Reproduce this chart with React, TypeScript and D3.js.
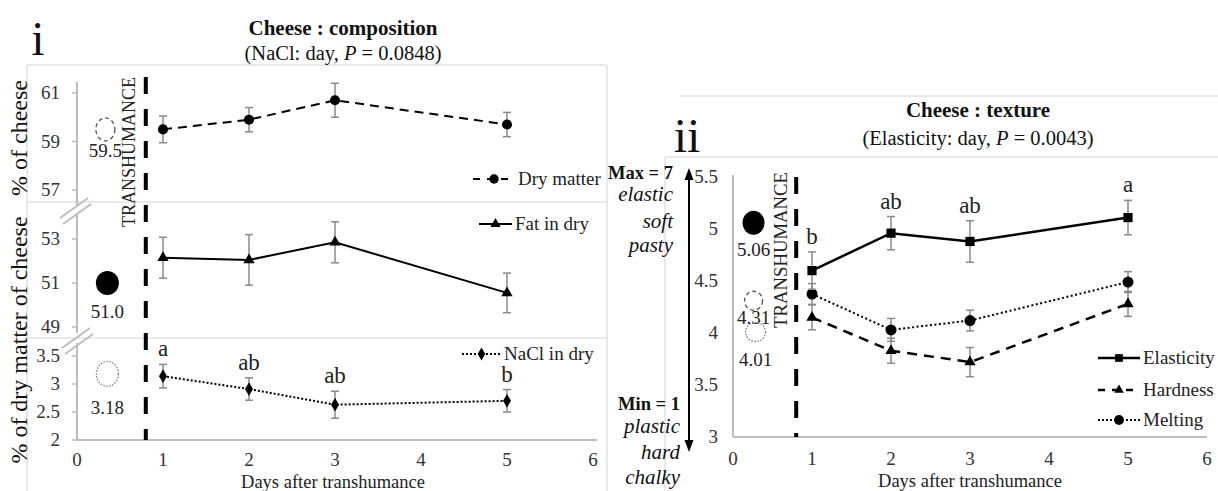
import React from "react";
import * as d3 from "d3";

// Sampling days after transhumance
const days = [1, 2, 3, 5];
const xTicks = [0, 1, 2, 3, 4, 5, 6];
const transhumanceDay = 0.8;
const beforeDay = 0.33;

// Panel i: cheese composition (mean ± SE)
const dryMatter = [59.5, 59.9, 60.7, 59.7];
const dryMatterSe = [0.55, 0.5, 0.7, 0.5];
const fatInDry = [52.15, 52.05, 52.85, 50.55];
const fatInDrySe = [0.93, 1.15, 0.93, 0.9];
const naclInDry = [3.14, 2.91, 2.63, 2.7];
const naclInDrySe = [0.21, 0.2, 0.24, 0.2];
const naclLetters = ["a", "ab", "ab", "b"];
const dryMatterTicks = [57, 59, 61];
const fatTicks = [49, 51, 53];
const naclTicks = [2, 2.5, 3, 3.5];
// values before transhumance: dry matter, fat in dry, NaCl in dry
const compositionBefore = [59.5, 51.0, 3.18];
const compositionBeforeDigits = [1, 1, 2];

// Panel ii: cheese texture scores (mean ± SE)
const elasticity = [4.6, 4.96, 4.88, 5.11];
const elasticitySe = [0.18, 0.16, 0.2, 0.165];
const hardness = [4.15, 3.83, 3.72, 4.28];
const hardnessSe = [0.12, 0.12, 0.14, 0.12];
const melting = [4.375, 4.03, 4.12, 4.49];
const meltingSe = [0.1, 0.11, 0.1, 0.1];
const elasticityLetters = ["b", "ab", "ab", "a"];
const textureTicks = [3, 3.5, 4, 4.5, 5, 5.5];
// values before transhumance: elasticity, hardness, melting
const textureBefore = [5.06, 4.31, 4.01];

const FONT = '"Liberation Serif", "Times New Roman", Times, serif';
const AXIS = "#bdbdbd";
const FRAME = "#e2e2e2";
const ERR = "#8a8a8a";
const TICK = "#333";

// scales
const xL = d3.scaleLinear().domain([0, 6]).range([77, 593]);
const yDM = d3.scaleLinear().domain([57, 61]).range([190, 93]);
const yFat = d3.scaleLinear().domain([49, 53]).range([327, 239]);
const yNa = d3.scaleLinear().domain([2, 3.5]).range([440, 356]);
const xR = d3.scaleLinear().domain([0, 6]).range([733, 1207]);
const yR = d3.scaleLinear().domain([3, 5.5]).range([437, 177]);

type Scale = d3.ScaleLinear<number, number>;

const symbolPath = (type: d3.SymbolType, size: number) =>
  d3.symbol().type(type).size(size)() || "";

function ErrorBars({ values, se, x, y }: { values: number[]; se: number[]; x: Scale; y: Scale }) {
  return (
    <g stroke={ERR} strokeWidth={1.5} fill="none">
      {values.map((v, i) => {
        const cx = x(days[i]);
        const y0 = y(v - se[i]);
        const y1 = y(v + se[i]);
        return (
          <g key={i}>
            <line x1={cx} x2={cx} y1={y0} y2={y1} />
            <line x1={cx - 4} x2={cx + 4} y1={y0} y2={y0} />
            <line x1={cx - 4} x2={cx + 4} y1={y1} y2={y1} />
          </g>
        );
      })}
    </g>
  );
}

function Series({
  values, se, x, y, dash, width, symbol, size,
}: {
  values: number[]; se: number[]; x: Scale; y: Scale; dash?: string; width: number;
  symbol: d3.SymbolType; size: number;
}) {
  const line = d3
    .line<number>()
    .x((_, i) => x(days[i]))
    .y((d) => y(d));
  const path = symbolPath(symbol, size);
  return (
    <g>
      <ErrorBars values={values} se={se} x={x} y={y} />
      <path d={line(values) || ""} fill="none" stroke="#000" strokeWidth={width} strokeDasharray={dash} />
      {values.map((v, i) => (
        <path key={i} d={path} transform={`translate(${x(days[i])},${y(v)})`} fill="#000" />
      ))}
    </g>
  );
}

function LegendItem({
  x0, x1, y, dash, width, symbol, size, label,
}: {
  x0: number; x1: number; y: number; dash?: string; width: number; symbol: d3.SymbolType;
  size: number; label: string;
}) {
  const cx = (x0 + x1) / 2;
  return (
    <g>
      <line x1={x0} x2={x1} y1={y} y2={y} stroke="#000" strokeWidth={width} strokeDasharray={dash} />
      <path d={symbolPath(symbol, size)} transform={`translate(${cx},${y})`} fill="#000" />
      <text x={x1 + 3} y={y + 6} fontSize={19} fontFamily={FONT} fill="#222">
        {label}
      </text>
    </g>
  );
}

function BeforeMark({
  cx, cy, rx, ry, kind, label, labelY,
}: {
  cx: number; cy: number; rx: number; ry: number; kind: "filled" | "dashed" | "dotted";
  label: string; labelY: number;
}) {
  const common = { cx, cy, rx, ry };
  return (
    <g>
      {kind === "filled" && <ellipse {...common} fill="#000" />}
      {kind === "dashed" && (
        <ellipse {...common} fill="none" stroke="#555" strokeWidth={1.3} strokeDasharray="4,3" />
      )}
      {kind === "dotted" && (
        <ellipse {...common} fill="none" stroke="#777" strokeWidth={1.2} strokeDasharray="1.5,1.5" />
      )}
      <text x={cx} y={labelY} textAnchor="middle" fontSize={19} fontFamily={FONT} fill="#222">
        {label}
      </text>
    </g>
  );
}

function YTicks({ ticks, y, xRight, tickMarks }: { ticks: number[]; y: Scale; xRight: number; tickMarks: boolean }) {
  return (
    <g>
      {ticks.map((t) => (
        <g key={t}>
          {tickMarks && <line x1={72} x2={77} y1={y(t)} y2={y(t)} stroke={AXIS} strokeWidth={1.5} />}
          <text x={xRight} y={y(t) + 6} textAnchor="end" fontSize={19} fontFamily={FONT} fill={TICK}>
            {t}
          </text>
        </g>
      ))}
    </g>
  );
}

function XTicks({ x, baseline }: { x: Scale; baseline: number }) {
  return (
    <g>
      {xTicks.map((t) => (
        <text key={t} x={x(t)} y={baseline} textAnchor="middle" fontSize={19} fontFamily={FONT} fill={TICK}>
          {t}
        </text>
      ))}
    </g>
  );
}

function Letters({
  letters, values, se, x, y,
}: { letters: string[]; values: number[]; se: number[]; x: Scale; y: Scale }) {
  return (
    <g>
      {letters.map((l, i) => (
        <text
          key={i}
          x={x(days[i])}
          y={y(values[i] + se[i]) - 8}
          textAnchor="middle"
          fontSize={23}
          fontFamily={FONT}
          fill="#222"
        >
          {l}
        </text>
      ))}
    </g>
  );
}

function Transhumance({ x, y0, y1, labelX, labelY, labelLen }: {
  x: number; y0: number; y1: number; labelX: number; labelY: number; labelLen: number;
}) {
  return (
    <g>
      <line x1={x} x2={x} y1={y0} y2={y1} stroke="#000" strokeWidth={4} strokeDasharray="17,15" />
      <text
        transform={`translate(${labelX},${labelY}) rotate(-90)`}
        textAnchor="middle"
        fontSize={18.5}
        fontFamily={FONT}
        fill="#222"
        textLength={labelLen}
        lengthAdjust="spacingAndGlyphs"
      >
        TRANSHUMANCE
      </text>
    </g>
  );
}

function CompositionPanel() {
  const bx = xL(beforeDay);
  const dmY = yDM(compositionBefore[0]);
  const fatY = yFat(compositionBefore[1]);
  const naY = yNa(compositionBefore[2]);
  const fmt = (i: number) => compositionBefore[i].toFixed(compositionBeforeDigits[i]);
  return (
    <g>
      {/* chart frames */}
      <g stroke={FRAME} strokeWidth={1.5} fill="none">
        <line x1={27} x2={607} y1={65} y2={65} />
        <line x1={27} x2={607} y1={202} y2={202} />
        <line x1={27} x2={607} y1={338} y2={338} />
        <line x1={27} x2={27} y1={65} y2={491} />
        <line x1={607} x2={607} y1={65} y2={491} />
      </g>

      {/* panel label and title */}
      <text x={38} y={55} textAnchor="middle" fontSize={48} fontFamily={FONT} fill="#111">i</text>
      <text x={343} y={35} textAnchor="middle" fontSize={21} fontWeight="bold" fontFamily={FONT} fill="#111">
        Cheese : composition
      </text>
      <text x={343} y={60} textAnchor="middle" fontSize={20.5} fontFamily={FONT} fill="#111">
        (NaCl:  day, <tspan fontStyle="italic">P</tspan> = 0.0848)
      </text>

      {/* y axis with breaks */}
      <g stroke={AXIS} strokeWidth={2}>
        <line x1={77} x2={77} y1={82} y2={206} />
        <line x1={77} x2={77} y1={214} y2={333} />
        <line x1={77} x2={77} y1={343} y2={440} />
        <line x1={77} x2={597} y1={440} y2={440} />
      </g>
      <g stroke={AXIS} strokeWidth={2}>
        <line x1={60} y1={218} x2={88} y2={198} />
        <line x1={63} y1={224} x2={91} y2={204} />
        <line x1={62} y1={348} x2={90} y2={328} />
        <line x1={65} y1={354} x2={93} y2={334} />
      </g>
      <YTicks ticks={dryMatterTicks} y={yDM} xRight={60} tickMarks />
      <YTicks ticks={fatTicks} y={yFat} xRight={60} tickMarks />
      <YTicks ticks={naclTicks} y={yNa} xRight={60} tickMarks />
      <XTicks x={xL} baseline={466} />
      <text x={333} y={488} textAnchor="middle" fontSize={18.5} fontFamily={FONT} fill="#222">
        Days after transhumance
      </text>
      <text transform="translate(27,138) rotate(-90)" textAnchor="middle" fontSize={24} fontFamily={FONT} fill="#111">
        % of cheese
      </text>
      <text transform="translate(27,340) rotate(-90)" textAnchor="middle" fontSize={24} fontFamily={FONT} fill="#111">
        % of dry matter of cheese
      </text>

      <Transhumance x={xL(transhumanceDay)} y0={77} y1={440} labelX={135} labelY={152} labelLen={150} />

      {/* values before transhumance */}
      <BeforeMark cx={bx} cy={dmY} rx={9.5} ry={11.5} kind="dashed" label={fmt(0)} labelY={157} />
      <BeforeMark cx={bx + 2} cy={fatY} rx={11.5} ry={12} kind="filled" label={fmt(1)} labelY={318} />
      <BeforeMark cx={bx + 2} cy={naY} rx={11} ry={12.5} kind="dotted" label={fmt(2)} labelY={414} />

      <Series values={dryMatter} se={dryMatterSe} x={xL} y={yDM} dash="9,6" width={2} symbol={d3.symbolCircle} size={80} />
      <Series values={fatInDry} se={fatInDrySe} x={xL} y={yFat} width={2} symbol={d3.symbolTriangle} size={55} />
      <Series values={naclInDry} se={naclInDrySe} x={xL} y={yNa} dash="2,2" width={2} symbol={d3.symbolDiamond} size={55} />
      <Letters letters={naclLetters} values={naclInDry} se={naclInDrySe} x={xL} y={yNa} />

      <LegendItem x0={473} x1={515} y={179} dash="7,7" width={2} symbol={d3.symbolCircle} size={70} label="Dry matter" />
      <LegendItem x0={479} x1={512} y={224} width={2} symbol={d3.symbolTriangle} size={45} label="Fat in dry" />
      <LegendItem x0={462} x1={501} y={354} dash="2,2" width={2} symbol={d3.symbolDiamond} size={50} label="NaCl in dry" />
    </g>
  );
}

function TexturePanel() {
  const bx = xR(0.26);
  return (
    <g>
      <g stroke={FRAME} strokeWidth={1.5} fill="none">
        <line x1={680} x2={1218} y1={96} y2={96} />
        <line x1={665} x2={1218} y1={157} y2={157} />
        <line x1={665} x2={665} y1={157} y2={491} />
      </g>

      <text x={687} y={152} textAnchor="middle" fontSize={48} fontFamily={FONT} fill="#111">ii</text>
      <text x={978} y={117} textAnchor="middle" fontSize={21} fontWeight="bold" fontFamily={FONT} fill="#111">
        Cheese : texture
      </text>
      <text x={978} y={145} textAnchor="middle" fontSize={20.5} fontFamily={FONT} fill="#111">
        (Elasticity:  day, <tspan fontStyle="italic">P</tspan> = 0.0043)
      </text>

      {/* score scale annotation */}
      <g fontFamily={FONT} fill="#111" textAnchor="end">
        <text x={673} y={179} fontSize={18.5} fontWeight="bold">Max = 7</text>
        <text x={673} y={201} fontSize={21} fontStyle="italic">elastic</text>
        <text x={673} y={228} fontSize={21} fontStyle="italic">soft</text>
        <text x={673} y={252} fontSize={21} fontStyle="italic">pasty</text>
        <text x={680} y={410} fontSize={18.5} fontWeight="bold">Min = 1</text>
        <text x={680} y={433} fontSize={21} fontStyle="italic">plastic</text>
        <text x={680} y={459} fontSize={21} fontStyle="italic">hard</text>
        <text x={680} y={484} fontSize={21} fontStyle="italic">chalky</text>
      </g>
      <line x1={689} x2={689} y1={178} y2={442} stroke="#000" strokeWidth={2} />
      <path d="M689,168 L684.5,180 L693.5,180 Z" fill="#000" />
      <path d="M689,452 L684.5,440 L693.5,440 Z" fill="#000" />

      <g stroke={AXIS} strokeWidth={2}>
        <line x1={733} x2={733} y1={175} y2={437} />
        <line x1={733} x2={1207} y1={437} y2={437} />
      </g>
      <YTicks ticks={textureTicks} y={yR} xRight={718} tickMarks={false} />
      <XTicks x={xR} baseline={465} />
      <text x={970} y={487} textAnchor="middle" fontSize={18.5} fontFamily={FONT} fill="#222">
        Days after transhumance
      </text>

      <Transhumance x={xR(transhumanceDay)} y0={177} y1={437} labelX={787} labelY={250} labelLen={156} />

      <BeforeMark cx={bx} cy={yR(textureBefore[0])} rx={11} ry={12} kind="filled" label={textureBefore[0].toFixed(2)} labelY={256} />
      <BeforeMark cx={bx} cy={yR(textureBefore[1])} rx={9} ry={9.5} kind="dashed" label={textureBefore[1].toFixed(2)} labelY={324} />
      <BeforeMark cx={bx + 2} cy={yR(textureBefore[2])} rx={10} ry={9.5} kind="dotted" label={textureBefore[2].toFixed(2)} labelY={366} />

      <Series values={melting} se={meltingSe} x={xR} y={yR} dash="2,2.5" width={2} symbol={d3.symbolCircle} size={95} />
      <Series values={hardness} se={hardnessSe} x={xR} y={yR} dash="10,7" width={2.5} symbol={d3.symbolTriangle} size={55} />
      <Series values={elasticity} se={elasticitySe} x={xR} y={yR} width={2.5} symbol={d3.symbolSquare} size={85} />
      <Letters letters={elasticityLetters} values={elasticity} se={elasticitySe} x={xR} y={yR} />

      <LegendItem x0={1098} x1={1140} y={358} width={2.5} symbol={d3.symbolSquare} size={60} label="Elasticity" />
      <LegendItem x0={1098} x1={1140} y={390} dash="7,7" width={2.5} symbol={d3.symbolTriangle} size={40} label="Hardness" />
      <LegendItem x0={1098} x1={1140} y={420} dash="2,2" width={2} symbol={d3.symbolCircle} size={75} label="Melting" />
    </g>
  );
}

export default function App() {
  return (
    <svg
      width={1218}
      height={491}
      viewBox="0 0 1218 491"
      style={{ position: "absolute", left: 0, top: 0, display: "block", background: "#fff" }}
    >
      <rect width={1218} height={491} fill="#fff" />
      <CompositionPanel />
      <TexturePanel />
    </svg>
  );
}
